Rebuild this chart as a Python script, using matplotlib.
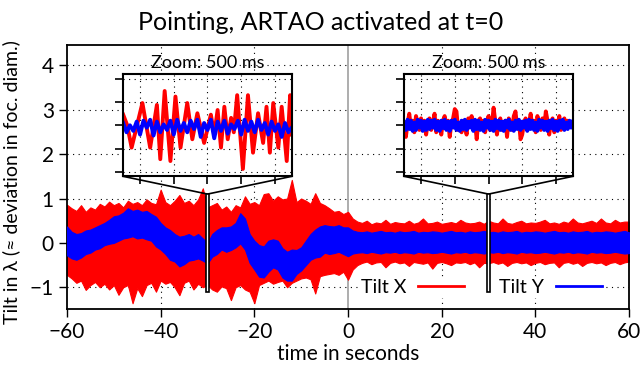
import numpy as np
import matplotlib
matplotlib.use("Agg")
from matplotlib import pyplot as plt
from matplotlib.patches import Rectangle

plt.rcParams['font.family'] = ['Lato', 'DejaVu Sans']

# envelope of the 60 s traces, one value per second from -60 to 60
t_sec = np.arange(-60, 61)
tilt_x_hi = [0.86, 0.78, 0.72, 0.85, 0.70, 0.80, 0.75, 0.88, 0.82, 0.93,
             0.85, 0.90, 0.80, 0.95, 0.88, 0.92, 0.85, 0.98, 0.90, 0.87,
             1.20, 0.92, 0.85, 0.95, 1.08, 0.90, 0.95, 0.85, 0.98, 1.23,
             0.80, 0.85, 0.90, 0.75, 0.82, 0.70, 0.85, 0.80, 1.05, 0.88,
             0.92, 0.85, 1.10, 1.12, 0.95, 1.05, 0.98, 1.00, 1.42, 0.92,
             1.00, 0.95, 0.88, 1.12, 0.90, 0.85, 0.78, 0.70, 0.72, 0.65,
             0.70,
             0.55, 0.48, 0.45, 0.50, 0.42, 0.46, 0.44, 0.52, 0.43, 0.47,
             0.45, 0.44, 0.50, 0.43, 0.46, 0.55, 0.44, 0.45, 0.48, 0.43,
             0.45, 0.47, 0.44, 0.52, 0.46, 0.44, 0.45, 0.48, 0.43, 0.50,
             0.46, 0.44, 0.55, 0.45, 0.43, 0.47, 0.50, 0.44, 0.46, 0.45,
             0.48, 0.52, 0.44, 0.46, 0.43, 0.48, 0.45, 0.55, 0.46, 0.44,
             0.47, 0.50, 0.45, 0.55, 0.46, 0.44, 0.52, 0.46, 0.48, 0.48]
tilt_x_lo = [-0.72, -0.80, -0.90, -0.85, -1.06, -0.95, -0.88, -1.00, -0.92, -1.05,
             -0.95, -1.17, -1.00, -0.95, -1.36, -1.02, -1.20, -0.95, -0.90, -1.10,
             -0.85, -0.92, -0.88, -1.00, -1.18, -0.90, -0.85, -1.05, -0.92, -1.00,
             -0.95, -1.05, -1.10, -0.98, -1.02, -1.29, -1.00, -0.95, -1.05, -1.10,
             -1.36, -0.95, -0.90, -0.85, -0.92, -0.88, -0.85, -1.00, -0.90, -0.85,
             -0.80, -0.78, -0.82, -1.14, -0.75, -0.72, -0.70, -0.68, -0.72, -0.65,
             -0.83,
             -0.60, -0.50, -0.45, -0.42, -0.48, -0.44, -0.43, -0.55, -0.45, -0.42,
             -0.46, -0.44, -0.52, -0.43, -0.45, -0.47, -0.44, -0.58, -0.45, -0.43,
             -0.46, -0.50, -0.44, -0.45, -0.43, -0.48, -0.44, -0.55, -0.45, -0.46,
             -0.43, -0.47, -0.44, -0.52, -0.45, -0.43, -0.46, -0.44, -0.50, -0.45,
             -0.43, -0.48, -0.45, -0.44, -0.55, -0.45, -0.43, -0.47, -0.44, -0.52,
             -0.45, -0.43, -0.46, -0.44, -0.50, -0.45, -0.43, -0.48, -0.44, -0.42]
tilt_y_hi = [0.37, 0.25, 0.20, 0.22, 0.28, 0.30, 0.35, 0.40, 0.45, 0.52,
             0.60, 0.62, 0.68, 0.78, 0.72, 0.75, 0.70, 0.72, 0.65, 0.59,
             0.45, 0.35, 0.29, 0.20, 0.14, 0.16, 0.20, 0.14, 0.20, 0.10,
             0.00, 0.20, 0.29, 0.35, 0.35, 0.37, 0.45, 0.67, 0.55, 0.20,
             0.05, -0.05, -0.08, 0.05, 0.08, 0.05, -0.12, -0.20, -0.15, -0.16,
             -0.10, 0.05, 0.20, 0.30, 0.37, 0.40, 0.38, 0.37, 0.40, 0.35,
             0.35,
             0.28, 0.25, 0.24, 0.26, 0.23, 0.25, 0.27, 0.24, 0.25, 0.23,
             0.26, 0.24, 0.25, 0.27, 0.23, 0.25, 0.24, 0.26, 0.25, 0.23,
             0.25, 0.27, 0.24, 0.25, 0.23, 0.26, 0.24, 0.25, 0.27, 0.24,
             0.25, 0.23, 0.26, 0.24, 0.25, 0.27, 0.23, 0.25, 0.24, 0.26,
             0.25, 0.23, 0.25, 0.27, 0.24, 0.25, 0.23, 0.26, 0.24, 0.25,
             0.27, 0.23, 0.25, 0.24, 0.26, 0.25, 0.23, 0.25, 0.27, 0.24]
tilt_y_lo = [-0.28, -0.35, -0.38, -0.33, -0.25, -0.22, -0.15, -0.12, -0.05, -0.02,
             0.00, 0.05, 0.10, 0.12, 0.15, 0.10, 0.12, 0.08, 0.05, -0.08,
             -0.15, -0.25, -0.38, -0.42, -0.53, -0.48, -0.40, -0.38, -0.35, -0.40,
             -0.46, -0.31, -0.25, -0.15, -0.20, -0.16, -0.10, -0.01, -0.15, -0.45,
             -0.60, -0.76, -0.78, -0.65, -0.55, -0.60, -0.78, -0.85, -0.85, -0.70,
             -0.62, -0.50, -0.38, -0.33, -0.31, -0.22, -0.25, -0.23, -0.20, -0.25,
             -0.30,
             -0.24, -0.22, -0.21, -0.23, -0.20, -0.22, -0.24, -0.21, -0.22, -0.20,
             -0.23, -0.21, -0.22, -0.24, -0.20, -0.22, -0.21, -0.23, -0.22, -0.20,
             -0.22, -0.24, -0.21, -0.22, -0.20, -0.23, -0.21, -0.22, -0.24, -0.21,
             -0.22, -0.20, -0.23, -0.21, -0.22, -0.24, -0.20, -0.22, -0.21, -0.23,
             -0.22, -0.20, -0.22, -0.24, -0.21, -0.22, -0.20, -0.23, -0.21, -0.22,
             -0.24, -0.20, -0.22, -0.21, -0.23, -0.22, -0.20, -0.22, -0.24, -0.23]

# zoom at t=-30 s (before ARTAO), times in ms from window start
zoom1_x_ms = [0, 12, 25, 57, 80, 100, 110, 123, 140, 155, 170, 190, 205, 220,
              240, 260, 270, 280, 290, 300, 310, 320, 328, 338, 355, 370, 385,
              400, 415, 425, 435, 445, 460, 470, 485, 495, 500]
zoom1_x = [0.23, 0.0, -0.48, 0.48, -0.48, 0.44, -0.73, 0.74, -0.77, 0.62,
           -0.48, 0.48, -0.30, 0.26, -0.38, 0.23, -0.20, 0.33, -0.48, 0.40,
           -0.30, 0.16, -0.15, 0.65, -0.94, 0.65, -0.59, 0.26, -0.38, 0.40,
           -0.59, 0.48, -0.48, 0.40, -0.77, 0.65, -0.20]
zoom1_y = [0.05, -0.15, 0.0, -0.12, 0.08, -0.20, 0.10, -0.05, 0.12, -0.22,
           0.08, -0.15, 0.02, -0.10, 0.10, -0.20, 0.12, -0.12, 0.05, -0.15,
           0.10, -0.08, 0.12, -0.25, 0.05, -0.10, 0.12, -0.28, 0.08, -0.12,
           0.10, -0.18, 0.02, -0.08, 0.10, -0.20, 0.12, -0.12, 0.08, -0.15,
           0.12, -0.10, 0.05, -0.20, 0.08, -0.12, 0.02, -0.25, 0.05, -0.15, -0.05]

# zoom at t=+30 s (ARTAO active)
zoom2_x = [0.0, -0.25, 0.05, 0.25, -0.05, 0.1, -0.15, 0.2, 0.05, -0.1,
           0.15, -0.05, 0.1, -0.2, 0.05, 0.15, -0.1, 0.05, 0.25, -0.15,
           0.1, 0.0, -0.2, 0.1, 0.2, -0.05, 0.1, -0.25, 0.05, 0.15,
           0.35, 0.3, -0.1, 0.05, -0.15, 0.1, 0.0, -0.2, 0.15, 0.05,
           0.2, -0.1, 0.05, -0.3, 0.1, 0.15, -0.05, 0.1, -0.15, 0.05,
           0.2, -0.1, 0.0, 0.38, 0.1, -0.2, 0.05, 0.15, -0.1, 0.05,
           0.1, -0.25, 0.15, 0.05, -0.1, 0.2, 0.3, -0.05, 0.1, -0.3,
           -0.2, 0.05, 0.15, -0.1, 0.05, 0.25, -0.05, 0.1, -0.15, 0.2,
           0.05, -0.1, 0.15, -0.05, 0.3, 0.1, -0.2, 0.05, 0.15, -0.15,
           0.1, 0.0, 0.2, -0.1, 0.05, 0.15, -0.05, 0.1, 0.0, 0.05, 0.0]
zoom2_y = [0.05, -0.1, 0.12, -0.08, 0.1, -0.12, 0.06, -0.1, 0.12, -0.05,
           0.1, -0.12, 0.08, -0.1, 0.12, -0.08, 0.1, -0.05, 0.12, -0.1,
           0.08, -0.12, 0.1, -0.06, 0.12, -0.1, 0.08, -0.12, 0.1, -0.05,
           0.12, -0.1, 0.06, -0.12, 0.1, -0.08, 0.12, -0.1, 0.08, -0.05,
           0.1, -0.12, 0.12, -0.08, 0.1, -0.1, 0.06, -0.12, 0.12, -0.05,
           0.1, -0.1, 0.08, -0.12, 0.12, -0.06, 0.1, -0.1, 0.08, -0.12,
           0.1, -0.05, 0.12, -0.1, 0.06, -0.12, 0.1, -0.08, 0.12, -0.1,
           0.08, -0.05, 0.1, -0.12, 0.12, -0.08, 0.1, -0.1, 0.06, -0.12,
           0.12, -0.05, 0.1, -0.1, 0.08, -0.12, 0.1, -0.06, 0.12, -0.1,
           0.08, -0.12, 0.1, -0.05, 0.12, -0.1, 0.06, -0.08, 0.1, -0.05, 0.08]

RED = '#ff0000'
BLUE = '#0000ff'

fig = plt.figure(figsize=(6.41, 3.69), dpi=100)
ax = fig.add_axes([0.1045, 0.1626, 0.8768, 0.7154])

ax.fill_between(t_sec, tilt_x_lo, tilt_x_hi, color=RED, lw=0.8, zorder=2)
ax.fill_between(t_sec, tilt_y_lo, tilt_y_hi, color=BLUE, lw=0.8, zorder=3)
ax.plot([], [], color=RED, lw=2, label='Tilt X')
ax.plot([], [], color=BLUE, lw=2, label='Tilt Y')

ax.set_xlim(-60, 60)
ax.set_ylim(-1.49, 4.46)
ax.set_xticks([-60, -40, -20, 0, 20, 40, 60])
ax.set_yticks([-1, 0, 1, 2, 3, 4])
for gx in [-40, -20, 20, 40]:
    ax.axvline(gx, color='black', lw=0.8, ls=(0, (1, 4)), zorder=1)
for gy in [-1, 1, 2, 3, 4]:
    ax.axhline(gy, color='black', lw=0.8, ls=(0, (1, 4)), zorder=1)
ax.axvline(0, color='#a0a0a0', lw=1.2, zorder=1)

ax.tick_params(direction='out', length=6, width=1, labelsize=15, top=False, right=False)
for s in ax.spines.values():
    s.set_linewidth(1.3)
ax.set_xlabel('time in seconds', fontsize=15, labelpad=1)
ax.set_ylabel('Tilt in λ (≈ deviation in foc. diam.)', fontsize=14)
ax.yaxis.set_label_coords(-0.083, 0.48)
fig.text(0.5, 0.94, 'Pointing, ARTAO activated at t=0', ha='center', va='center', fontsize=18)

leg = ax.legend(loc='center', bbox_to_anchor=(28.5, -1.0), bbox_transform=ax.transData,
                ncol=2, markerfirst=False, frameon=True, fontsize=14,
                handlelength=2.4, handletextpad=0.6, columnspacing=1.8,
                borderpad=0.1, borderaxespad=0)
leg.get_frame().set_edgecolor('none')
leg.get_frame().set_facecolor('white')
leg.get_frame().set_alpha(1)
leg.set_zorder(5)

for center, xs_ms, x_vals, y_vals in [(-30, zoom1_x_ms, zoom1_x, zoom1_y),
                                      (30, None, zoom2_x, zoom2_y)]:
    t0 = center - 0.25
    if xs_ms is None:
        tx = t0 + np.linspace(0, 500, len(x_vals)) / 1000
    else:
        tx = t0 + np.array(xs_ms) / 1000
    ty = t0 + np.linspace(0, 500, len(y_vals)) / 1000

    ins = ax.inset_axes([center - 18, 1.5, 36, 2.3], transform=ax.transData, zorder=7)
    ins.plot(tx, x_vals, color=RED, lw=2.8)
    ins.plot(ty, y_vals, color=BLUE, lw=2.8)
    ins.set_xlim(t0, t0 + 0.5)
    ins.set_ylim(-1.1, 1.1)
    ins.set_xticks([center - 0.2, center - 0.1, center, center + 0.1, center + 0.2])
    ins.set_yticks([-1, -0.5, 0, 0.5, 1])
    ins.set_xticklabels([])
    ins.set_yticklabels([])
    ins.tick_params(direction='out', length=6, width=1.2, top=False, right=False)
    ins.grid(True, color='black', lw=0.8, ls=(0, (1, 4)))
    ins.set_axisbelow(True)
    for s in ins.spines.values():
        s.set_linewidth(1.5)
    ax.text(center, 4.06, 'Zoom: 500 ms', ha='center', va='center', fontsize=13, zorder=8)

    ax.plot([center - 18, center, center + 18], [1.5, 1.1, 1.5], color='black', lw=1.2, zorder=6)
    ax.add_patch(Rectangle((t0, -1.1), 0.5, 2.2, facecolor='white', edgecolor='black',
                           lw=1.2, zorder=6))

fig.savefig('out.png', dpi=100)
